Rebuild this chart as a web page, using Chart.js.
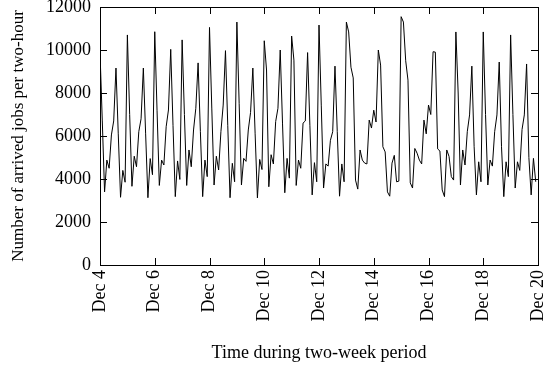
<!DOCTYPE html>
<html>
<head>
<meta charset="utf-8">
<script src="https://cdn.jsdelivr.net/npm/chart.js@4/dist/chart.umd.min.js"></script>
<style>
  html, body { margin: 0; padding: 0; background: #fff; }
  #wrap { width: 549px; height: 369px; }
</style>
</head>
<body>
<div id="wrap"><canvas id="jobsChart" width="549" height="369"></canvas></div>
<script>
// arrived jobs per two-hour slot, one array per day (00:00 .. 22:00)
const dec4  = [9900, 6700, 3400, 4880, 4500, 6050, 6700, 9160, 6100, 3150, 4400, 3850];
const dec5  = [10700, 7000, 3660, 5060, 4570, 6200, 6800, 9160, 6100, 3130, 4950, 4200];
const dec6  = [10850, 7200, 3700, 4880, 4650, 6430, 7210, 10030, 6500, 3180, 4840, 3980];
const dec7  = [10470, 7000, 3700, 5350, 4570, 6280, 7290, 9400, 6200, 3180, 4880, 4110];
const dec8  = [11050, 7300, 3720, 5060, 4420, 6200, 7440, 9970, 6500, 3130, 4730, 3870];
const dec9  = [11300, 7500, 3720, 4960, 4820, 6280, 7100, 9160, 6100, 3120, 4910, 4440];
const dec10 = [10430, 9070, 3640, 5130, 4700, 6670, 7290, 10000, 6600, 3360, 4960, 4040];
const dec11 = [10650, 9530, 3700, 4880, 4500, 6600, 6700, 9880, 6500, 3260, 4760, 3870];
const dec12 = [11160, 7400, 3580, 4700, 4600, 5800, 6200, 9250, 6200, 3200, 4700, 3870];
const dec13 = [11300, 10840, 9200, 8700, 3950, 3530, 5350, 4880, 4740, 4700, 6740, 6370];
const dec14 = [7200, 6650, 10000, 9300, 5500, 5260, 3400, 3200, 4740, 5100, 3870, 3900];
const dec15 = [11550, 11300, 9500, 8600, 3820, 3580, 5420, 5200, 4880, 4700, 6740, 6100];
const dec16 = [7440, 7000, 9920, 9900, 5400, 5300, 3490, 3180, 5350, 5050, 4110, 3950];
const dec17 = [10840, 8000, 3720, 5350, 4650, 6200, 6980, 9250, 5500, 3260, 4800, 3870];
const dec18 = [10840, 7000, 3720, 4880, 4600, 6200, 6980, 9440, 5500, 3180, 4800, 4110];
const dec19 = [10700, 7000, 3580, 4800, 4400, 6300, 6980, 9350, 5000, 3260, 4960, 3870];

const days = [dec4, dec5, dec6, dec7, dec8, dec9, dec10, dec11,
              dec12, dec13, dec14, dec15, dec16, dec17, dec18, dec19];
const firstDay = 4;       // Dec 4
const slotHours = 2;
const yTicks = [0, 2000, 4000, 6000, 8000, 10000, 12000];

const jobs = days.flat();
const points = jobs.map((v, i) => ({ x: i * slotHours, y: v }));

Chart.defaults.font.family = "'Liberation Serif', 'Times New Roman', serif";
Chart.defaults.font.size = 18;
Chart.defaults.color = "#000";

// gnuplot-like frame with inward tick marks
const frame = {
    id: "frame",
    afterDraw(chart) {
        const { ctx, chartArea: a, scales: { x, y } } = chart;
        const len = 7;
        ctx.save();
        ctx.strokeStyle = "#000";
        ctx.lineWidth = 1;
        ctx.strokeRect(Math.round(a.left) + 0.5, Math.round(a.top) + 0.5,
                       Math.round(a.right - a.left), Math.round(a.bottom - a.top));
        ctx.beginPath();
        x.ticks.forEach(t => {
            const px = Math.round(x.getPixelForValue(t.value)) + 0.5;
            ctx.moveTo(px, a.bottom); ctx.lineTo(px, a.bottom - len);
            ctx.moveTo(px, a.top); ctx.lineTo(px, a.top + len);
        });
        y.ticks.forEach(t => {
            const py = Math.round(y.getPixelForValue(t.value)) + 0.5;
            ctx.moveTo(a.left, py); ctx.lineTo(a.left + len, py);
            ctx.moveTo(a.right, py); ctx.lineTo(a.right - len, py);
        });
        ctx.stroke();
        ctx.restore();
    }
};

new Chart(document.getElementById("jobsChart"), {
    type: "line",
    data: {
        datasets: [{
            data: points,
            borderColor: "#000",
            borderWidth: 1,
            pointRadius: 0,
            tension: 0,
            fill: false
        }]
    },
    options: {
        responsive: false,
        animation: false,
        layout: { padding: { top: 7, right: 11, left: 0, bottom: 0 } },
        plugins: { legend: { display: false }, tooltip: { enabled: false } },
        scales: {
            x: {
                type: "linear",
                min: 0,
                max: days.length * 24,
                afterFit: s => { s.height = 104; s.paddingLeft = 0; s.paddingRight = 0; },
                grid: { display: false, drawTicks: false },
                border: { display: false },
                ticks: {
                    stepSize: 48,
                    padding: 5,
                    minRotation: 90,
                    maxRotation: 90,
                    callback: v => "Dec " + (firstDay + v / 24)
                },
                title: {
                    display: true,
                    text: "Time during two-week period",
                    padding: { top: 0, bottom: 5 }
                }
            },
            y: {
                min: 0,
                max: 12000,
                afterFit: s => { s.width = 100; s.paddingTop = 0; s.paddingBottom = 0; },
                afterBuildTicks: s => { s.ticks = yTicks.map(v => ({ value: v })); },
                grid: { display: false, drawTicks: false },
                border: { display: false },
                ticks: { padding: 9, callback: v => String(v) },
                title: {
                    display: true,
                    text: "Number of arrived jobs per two-hour",
                    font: { size: 17 },
                    padding: { top: 8, bottom: 0 }
                }
            }
        }
    },
    plugins: [frame]
});
</script>
</body>
</html>
